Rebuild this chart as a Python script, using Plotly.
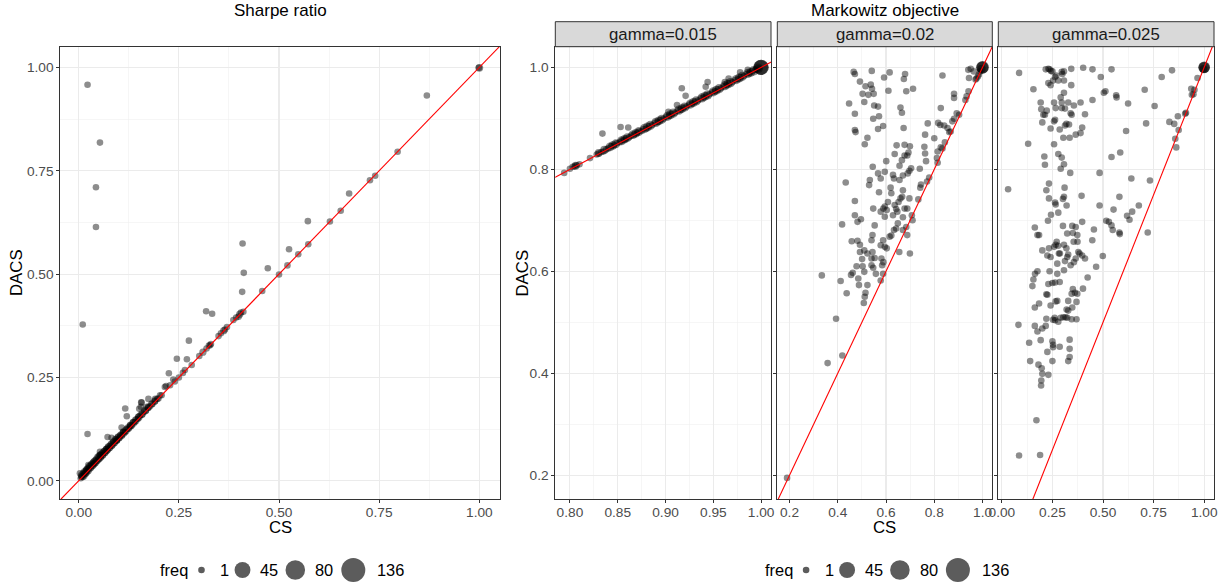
import plotly.graph_objects as go

W, H = 1226, 584
FONT = "Liberation Sans, Arial, Helvetica, sans-serif"

# ---------------- data (CS, DACS) ----------------
# Sharpe ratio panel
sharpe_points = [
    (0.022, 0.958), (0.053, 0.818), (0.043, 0.710), (0.043, 0.614), (0.869, 0.932),
    (0.675, 0.695), (0.572, 0.628), (0.525, 0.560), (0.472, 0.514), (0.409, 0.574),
    (0.412, 0.503), (0.408, 0.457), (0.318, 0.410), (0.333, 0.404), (0.010, 0.378),
    (0.275, 0.339), (0.245, 0.295), (0.270, 0.294), (0.225, 0.260), (0.022, 0.113),
    (0.116, 0.175), (0.120, 0.156), (0.107, 0.129), (0.156, 0.190), (0.151, 0.174),
    (0.174, 0.198), (0.072, 0.106), (0.082, 0.104), (0.053, 0.070), (0.024, 0.038),
    (0.003, 0.018), (0.157, 0.189), (0.155, 0.179),
    (0.796, 0.796), (0.740, 0.738), (0.727, 0.727), (0.654, 0.653), (0.627, 0.627),
    (0.573, 0.572), (0.548, 0.548), (0.521, 0.521), (0.500, 0.499), (0.458, 0.459),
    (0.411, 0.409), (0.405, 0.407), (0.399, 0.397), (0.393, 0.395), (0.386, 0.389),
    (0.370, 0.372), (0.365, 0.366), (0.355, 0.357), (0.349, 0.350), (0.330, 0.331),
    (0.328, 0.328), (0.325, 0.327), (0.319, 0.320), (0.301, 0.302), (0.282, 0.280),
    (0.265, 0.268), (0.260, 0.261), (0.250, 0.250), (0.240, 0.240), (0.236, 0.245),
    (0.228, 0.231), (0.218, 0.229), (0.215, 0.227), (0.207, 0.207), (0.203, 0.207),
    (0.199, 0.199), (0.191, 0.198), (0.170, 0.179), (0.149, 0.155), (0.128, 0.131),
    (0.111, 0.119), (0.095, 0.098), (0.070, 0.078), (0.053, 0.062), (0.037, 0.042),
    (0.020, 0.026), (0.007, 0.010),
    (0.005, 0.006), (0.008, 0.012), (0.010, 0.010), (0.012, 0.018), (0.014, 0.015),
    (0.016, 0.022), (0.018, 0.019), (0.020, 0.028), (0.022, 0.024), (0.025, 0.030),
    (0.027, 0.035), (0.030, 0.032), (0.032, 0.040), (0.035, 0.037), (0.037, 0.046),
    (0.040, 0.042), (0.042, 0.050), (0.045, 0.047), (0.047, 0.058), (0.050, 0.052),
    (0.052, 0.062), (0.055, 0.057), (0.058, 0.066), (0.060, 0.062), (0.063, 0.072),
    (0.066, 0.068), (0.068, 0.076), (0.071, 0.073), (0.074, 0.083), (0.077, 0.079),
    (0.080, 0.088), (0.083, 0.085), (0.086, 0.095), (0.089, 0.091), (0.092, 0.101),
    (0.095, 0.097), (0.098, 0.106), (0.101, 0.103), (0.104, 0.110), (0.108, 0.110),
    (0.112, 0.118), (0.116, 0.118), (0.120, 0.126), (0.124, 0.126), (0.128, 0.134),
    (0.132, 0.134), (0.136, 0.142), (0.140, 0.142), (0.144, 0.149), (0.148, 0.150),
    (0.153, 0.158), (0.158, 0.160), (0.163, 0.167), (0.168, 0.170), (0.173, 0.176),
    (0.178, 0.180), (0.184, 0.186), (0.190, 0.192), (0.196, 0.198),
    (0.999, 0.999),
]
# (CS, DACS, freq) for repeated portfolios
sharpe_multi = [
    (1.0, 0.999, 3), (0.010, 0.013, 9), (0.016, 0.020, 8), (0.022, 0.026, 8),
    (0.028, 0.033, 7), (0.034, 0.039, 7), (0.040, 0.045, 7), (0.046, 0.051, 6),
    (0.052, 0.057, 6), (0.058, 0.063, 6), (0.064, 0.069, 5), (0.070, 0.075, 5),
    (0.076, 0.081, 5), (0.082, 0.087, 5), (0.088, 0.093, 4), (0.094, 0.099, 4),
    (0.100, 0.105, 4), (0.106, 0.110, 4), (0.112, 0.116, 4), (0.118, 0.122, 3),
    (0.124, 0.128, 3), (0.130, 0.134, 3), (0.136, 0.140, 3), (0.142, 0.146, 3),
    (0.150, 0.154, 3), (0.158, 0.162, 3), (0.166, 0.170, 3), (0.174, 0.178, 2),
    (0.182, 0.186, 2), (0.190, 0.193, 2), (0.310, 0.311, 2), (0.362, 0.363, 2),
    (0.402, 0.403, 2),
]

# Markowitz objective, gamma = 0.015
g015_points = [
    (0.794, 0.793), (0.834, 0.870), (0.853, 0.883), (0.861, 0.882), (0.903, 0.913),
    (0.912, 0.926), (0.917, 0.959), (0.921, 0.944), (0.942, 0.962), (0.944, 0.971),
    (0.962, 0.971), (0.966, 0.978), (0.978, 0.990), (0.986, 0.995),
    (0.800, 0.801), (0.803, 0.805), (0.805, 0.806), (0.807, 0.808), (0.810, 0.810),
    (0.821, 0.822), (0.828, 0.829), (0.830, 0.831), (0.833, 0.834), (0.835, 0.835),
    (0.838, 0.839), (0.840, 0.841), (0.843, 0.845), (0.846, 0.847), (0.849, 0.851),
    (0.852, 0.853), (0.854, 0.856), (0.857, 0.858), (0.859, 0.861), (0.862, 0.863),
    (0.864, 0.866), (0.867, 0.868), (0.870, 0.871), (0.872, 0.874), (0.875, 0.875),
    (0.877, 0.879), (0.880, 0.880), (0.883, 0.885), (0.886, 0.887), (0.889, 0.891),
    (0.892, 0.893), (0.895, 0.897), (0.898, 0.899), (0.901, 0.903), (0.904, 0.905),
    (0.907, 0.909), (0.910, 0.911), (0.913, 0.915), (0.916, 0.917), (0.919, 0.921),
    (0.922, 0.923), (0.925, 0.927), (0.928, 0.929), (0.931, 0.933), (0.934, 0.935),
    (0.937, 0.939), (0.940, 0.941), (0.943, 0.945), (0.946, 0.947), (0.949, 0.951),
    (0.952, 0.953), (0.955, 0.957), (0.958, 0.959), (0.961, 0.963), (0.964, 0.965),
    (0.967, 0.969), (0.970, 0.971), (0.973, 0.975), (0.976, 0.977), (0.979, 0.981),
    (0.982, 0.983), (0.985, 0.987), (0.988, 0.989), (0.991, 0.993), (0.994, 0.995),
    (0.997, 0.998),
]
g015_multi = [
    (1.0, 1.0, 40), (1.0, 1.0, 38), (0.9995, 0.9995, 36), (0.997, 0.998, 8),
    (0.806, 0.807, 3), (0.830, 0.832, 3), (0.836, 0.838, 4),
    (0.842, 0.844, 6), (0.848, 0.850, 6), (0.854, 0.856, 6), (0.860, 0.862, 6),
    (0.866, 0.868, 6), (0.872, 0.874, 6), (0.878, 0.880, 7), (0.884, 0.886, 7),
    (0.890, 0.892, 7), (0.896, 0.898, 7), (0.902, 0.904, 7), (0.908, 0.910, 7),
    (0.914, 0.916, 7), (0.920, 0.922, 7), (0.926, 0.928, 7), (0.932, 0.934, 7),
    (0.938, 0.940, 7), (0.944, 0.946, 7), (0.950, 0.952, 7), (0.956, 0.958, 7),
    (0.962, 0.964, 7), (0.968, 0.970, 7), (0.974, 0.976, 7), (0.980, 0.982, 7),
    (0.986, 0.988, 7), (0.992, 0.993, 8),
    (0.845, 0.847, 5), (0.857, 0.859, 5), (0.869, 0.871, 5), (0.881, 0.883, 6),
    (0.893, 0.895, 6), (0.905, 0.907, 6), (0.917, 0.919, 6), (0.929, 0.931, 6),
    (0.941, 0.943, 6), (0.953, 0.955, 6), (0.965, 0.967, 6), (0.977, 0.979, 6),
    (0.989, 0.990, 6),
]

# Markowitz objective, gamma = 0.02
g020_points = [
    (0.466, 0.991), (0.471, 0.987), (0.541, 0.993), (0.615, 0.990), (0.592, 0.980),
    (0.679, 0.987), (0.674, 0.977), (0.834, 0.984), (0.492, 0.972), (0.515, 0.963),
    (0.537, 0.966), (0.542, 0.958), (0.527, 0.946), (0.503, 0.948), (0.549, 0.948),
    (0.610, 0.954), (0.684, 0.953), (0.712, 0.958), (0.882, 0.948), (0.882, 0.940),
    (0.942, 0.953), (0.934, 0.943), (0.929, 0.936), (0.447, 0.929), (0.510, 0.932),
    (0.551, 0.925), (0.567, 0.923), (0.660, 0.921), (0.666, 0.911), (0.827, 0.920),
    (0.471, 0.909), (0.571, 0.904), (0.547, 0.899), (0.893, 0.910), (0.903, 0.907),
    (0.882, 0.899), (0.875, 0.894), (0.588, 0.885), (0.567, 0.879), (0.673, 0.881),
    (0.773, 0.890), (0.816, 0.891), (0.825, 0.887), (0.841, 0.886), (0.855, 0.881),
    (0.868, 0.874), (0.862, 0.873), (0.471, 0.877), (0.474, 0.873), (0.523, 0.862),
    (0.512, 0.849), (0.762, 0.868), (0.800, 0.861), (0.844, 0.853), (0.834, 0.841),
    (0.827, 0.843), (0.814, 0.835), (0.811, 0.822), (0.814, 0.813), (0.644, 0.847),
    (0.677, 0.848), (0.699, 0.845), (0.693, 0.833), (0.688, 0.827), (0.677, 0.827),
    (0.666, 0.818), (0.656, 0.807), (0.759, 0.844), (0.762, 0.831), (0.766, 0.816),
    (0.636, 0.830), (0.601, 0.816), (0.545, 0.805), (0.567, 0.792), (0.578, 0.782),
    (0.533, 0.779), (0.530, 0.769), (0.595, 0.795), (0.629, 0.789), (0.633, 0.782),
    (0.656, 0.779), (0.670, 0.788), (0.690, 0.792), (0.697, 0.797), (0.704, 0.802),
    (0.740, 0.801), (0.779, 0.784), (0.770, 0.776), (0.745, 0.770), (0.742, 0.764),
    (0.433, 0.774), (0.571, 0.755), (0.619, 0.764), (0.622, 0.753), (0.670, 0.759),
    (0.667, 0.746), (0.660, 0.743), (0.652, 0.736), (0.697, 0.743), (0.734, 0.741),
    (0.471, 0.738), (0.608, 0.736), (0.595, 0.727), (0.589, 0.723), (0.603, 0.720),
    (0.578, 0.717), (0.547, 0.723), (0.636, 0.730), (0.642, 0.722), (0.647, 0.717),
    (0.677, 0.723), (0.688, 0.723), (0.629, 0.710), (0.595, 0.707), (0.670, 0.706),
    (0.707, 0.710), (0.710, 0.700), (0.471, 0.710), (0.496, 0.702), (0.482, 0.697),
    (0.418, 0.692), (0.553, 0.690), (0.649, 0.694), (0.642, 0.684), (0.633, 0.681),
    (0.622, 0.670), (0.615, 0.668), (0.684, 0.687), (0.670, 0.681), (0.688, 0.671),
    (0.544, 0.671), (0.540, 0.661), (0.458, 0.659), (0.482, 0.660), (0.492, 0.652),
    (0.588, 0.661), (0.578, 0.651), (0.595, 0.648), (0.603, 0.645), (0.510, 0.641),
    (0.523, 0.635), (0.544, 0.638), (0.492, 0.638), (0.655, 0.638), (0.699, 0.635),
    (0.540, 0.625), (0.553, 0.626), (0.581, 0.625), (0.589, 0.618), (0.584, 0.612),
    (0.501, 0.624), (0.478, 0.610), (0.503, 0.610), (0.540, 0.612), (0.547, 0.607),
    (0.462, 0.597), (0.510, 0.599), (0.334, 0.592), (0.455, 0.593), (0.558, 0.595),
    (0.588, 0.595), (0.578, 0.582), (0.485, 0.586), (0.488, 0.573), (0.523, 0.573),
    (0.412, 0.581), (0.437, 0.557), (0.515, 0.558), (0.512, 0.550), (0.508, 0.538),
    (0.393, 0.507), (0.419, 0.435), (0.358, 0.420), (0.190, 0.195),
    (0.951, 0.997), (0.941, 0.995), (0.964, 0.992), (0.944, 0.979), (0.971, 0.976),
    (0.981, 0.982), (0.985, 0.986), (0.990, 0.992), (0.975, 0.978),
]
g020_multi = [(1.0, 1.0, 22), (1.0, 1.0, 20), (0.999, 0.999, 18), (0.996, 0.997, 4)]

# Markowitz objective, gamma = 0.025
g025_points = [
    (0.085, 0.989), (0.217, 0.996), (0.230, 0.997), (0.243, 0.993), (0.236, 0.996),
    (0.250, 0.992), (0.263, 0.981), (0.269, 0.984), (0.296, 0.991), (0.307, 0.992),
    (0.299, 0.987), (0.343, 0.997), (0.402, 0.999), (0.448, 0.996), (0.542, 0.996),
    (0.489, 0.981), (0.230, 0.969), (0.241, 0.965), (0.253, 0.974), (0.279, 0.974),
    (0.307, 0.974), (0.156, 0.957), (0.343, 0.965), (0.307, 0.950), (0.291, 0.941),
    (0.512, 0.953), (0.504, 0.950), (0.565, 0.945), (0.567, 0.941), (0.706, 0.956),
    (0.841, 0.994), (0.790, 0.981), (0.967, 0.979), (0.936, 0.958), (0.952, 0.956),
    (0.939, 0.946), (0.947, 0.947), (0.192, 0.931), (0.258, 0.931), (0.296, 0.931),
    (0.328, 0.931), (0.356, 0.925), (0.389, 0.931), (0.448, 0.936), (0.624, 0.929),
    (0.755, 0.924), (0.195, 0.918), (0.222, 0.915), (0.205, 0.907), (0.213, 0.907),
    (0.266, 0.920), (0.296, 0.920), (0.312, 0.919), (0.340, 0.910), (0.345, 0.907),
    (0.411, 0.908), (0.200, 0.892), (0.258, 0.894), (0.263, 0.897), (0.312, 0.886),
    (0.319, 0.889), (0.332, 0.888), (0.241, 0.880), (0.286, 0.878), (0.397, 0.882),
    (0.389, 0.871), (0.365, 0.868), (0.335, 0.862), (0.304, 0.862), (0.713, 0.890),
    (0.614, 0.875), (0.870, 0.904), (0.906, 0.909), (0.910, 0.911), (0.828, 0.893),
    (0.852, 0.889), (0.874, 0.877), (0.857, 0.860), (0.862, 0.843), (0.130, 0.850),
    (0.258, 0.849), (0.542, 0.824), (0.585, 0.833), (0.210, 0.825), (0.213, 0.809),
    (0.279, 0.830), (0.296, 0.823), (0.307, 0.810), (0.291, 0.801), (0.338, 0.793),
    (0.483, 0.793), (0.640, 0.782), (0.732, 0.778), (0.031, 0.761), (0.233, 0.772),
    (0.220, 0.759), (0.310, 0.764), (0.233, 0.743), (0.263, 0.735), (0.266, 0.731),
    (0.302, 0.742), (0.307, 0.746), (0.320, 0.729), (0.279, 0.715), (0.394, 0.748),
    (0.581, 0.746), (0.483, 0.729), (0.552, 0.721), (0.677, 0.729), (0.644, 0.717),
    (0.619, 0.709), (0.631, 0.701), (0.243, 0.711), (0.228, 0.699), (0.516, 0.699),
    (0.529, 0.697), (0.542, 0.690), (0.548, 0.681), (0.581, 0.676), (0.583, 0.673),
    (0.397, 0.697), (0.365, 0.687), (0.348, 0.689), (0.163, 0.686), (0.176, 0.671),
    (0.184, 0.671), (0.302, 0.689), (0.323, 0.674), (0.351, 0.675), (0.373, 0.671),
    (0.374, 0.658), (0.355, 0.658), (0.447, 0.661), (0.455, 0.682), (0.271, 0.658),
    (0.266, 0.652), (0.258, 0.648), (0.233, 0.645), (0.200, 0.641), (0.225, 0.631),
    (0.241, 0.628), (0.278, 0.650), (0.282, 0.635), (0.307, 0.652), (0.319, 0.645),
    (0.328, 0.633), (0.323, 0.628), (0.287, 0.635), (0.378, 0.638), (0.384, 0.635),
    (0.397, 0.631), (0.365, 0.625), (0.411, 0.625), (0.356, 0.618), (0.340, 0.612),
    (0.312, 0.620), (0.274, 0.615), (0.499, 0.630), (0.466, 0.609), (0.721, 0.676),
    (0.176, 0.600), (0.164, 0.595), (0.236, 0.600), (0.274, 0.595), (0.307, 0.602),
    (0.156, 0.584), (0.151, 0.571), (0.230, 0.575), (0.250, 0.577), (0.263, 0.578),
    (0.286, 0.579), (0.424, 0.588), (0.351, 0.565), (0.361, 0.558), (0.345, 0.556),
    (0.373, 0.556), (0.401, 0.566), (0.220, 0.555), (0.225, 0.554), (0.328, 0.542),
    (0.369, 0.540), (0.241, 0.533), (0.274, 0.542), (0.266, 0.541), (0.184, 0.537),
    (0.163, 0.529), (0.320, 0.525), (0.328, 0.523), (0.348, 0.529), (0.315, 0.510),
    (0.220, 0.507), (0.261, 0.509), (0.253, 0.505), (0.263, 0.504), (0.279, 0.501),
    (0.291, 0.509), (0.304, 0.510), (0.323, 0.509), (0.345, 0.506), (0.369, 0.506),
    (0.082, 0.495), (0.163, 0.493), (0.176, 0.482), (0.200, 0.488), (0.217, 0.493),
    (0.192, 0.465), (0.135, 0.460), (0.250, 0.463), (0.253, 0.456), (0.253, 0.451),
    (0.286, 0.452), (0.335, 0.466), (0.335, 0.448), (0.225, 0.442), (0.140, 0.424),
    (0.250, 0.424), (0.328, 0.424), (0.335, 0.432), (0.181, 0.417), (0.197, 0.410),
    (0.200, 0.399), (0.230, 0.397), (0.195, 0.386), (0.194, 0.376), (0.171, 0.308),
    (0.085, 0.239), (0.189, 0.240),
]
g025_multi = [(1.0, 1.0, 16), (1.0, 1.0, 15), (0.999, 0.999, 14), (0.997, 0.997, 3)]

facet_labels = ["gamma=0.015", "gamma=0.02", "gamma=0.025"]
legend_breaks = [1, 45, 80, 136]

sharpe_ticks = [0.0, 0.25, 0.5, 0.75, 1.0]
markowitz_y_ticks = [0.2, 0.4, 0.6, 0.8, 1.0]
g015_x_ticks = [0.80, 0.85, 0.90, 0.95, 1.00]
g020_x_ticks = [0.2, 0.4, 0.6, 0.8, 1.0]
g025_x_ticks = [0.0, 0.25, 0.5, 0.75, 1.0]

# ---------------- helpers ----------------
def px_x(p):
    return p / W

def px_y(p):
    return 1 - p / H

def msize(f):
    return 6.6 + 17.4 * (f ** 0.5 - 1) / (136 ** 0.5 - 1)

MARK = "rgba(0,0,0,0.64)"

fig = go.Figure()
panels = [
    ("x", "y", sharpe_points, sharpe_multi),
    ("x2", "y2", g015_points, g015_multi),
    ("x3", "y3", g020_points, g020_multi),
    ("x4", "y4", g025_points, g025_multi),
]
for xa, ya, pts, multi in panels:
    allp = [(c, d, 1) for c, d in pts] + list(multi)
    fig.add_trace(go.Scatter(
        x=[p[0] for p in allp], y=[p[1] for p in allp], mode="markers",
        xaxis=xa, yaxis=ya, showlegend=False, hoverinfo="skip",
        marker=dict(size=[msize(p[2]) for p in allp], color=MARK, line=dict(width=0)),
    ))
    fig.add_trace(go.Scatter(
        x=[-1, 2], y=[-1, 2], mode="lines", xaxis=xa, yaxis=ya,
        line=dict(color="#ff0000", width=1.1), showlegend=False, hoverinfo="skip",
    ))

# domains (pixels -> paper)
ytop, ybot = 46.7, 499.3
ydom = [px_y(ybot), px_y(ytop)]
xdoms = [(60.3, 500.0), (555.3, 771.0), (777.3, 992.3), (998.3, 1214.0)]

def axis(dom, rng, ticks, fmt, minor_vals, showlabels=True, anchor=None):
    d = dict(
        domain=list(dom), range=rng, tickmode="array", tickvals=ticks, tickformat=fmt,
        showline=True, mirror=True, linecolor="#333333", linewidth=1,
        showgrid=True, gridcolor="#ebebeb", gridwidth=1.1, zeroline=False,
        ticks="outside", ticklen=3, tickcolor="#333333", tickwidth=1,
        tickfont=dict(size=13.7, color="#4d4d4d", family=FONT),
        showticklabels=showlabels, automargin=False,
        minor=dict(tickmode="array", tickvals=minor_vals, showgrid=True,
                   gridcolor="#f0f0f0", gridwidth=0.6, ticks=""),
    )
    if anchor:
        d["anchor"] = anchor
    return d

q = [0.125, 0.375, 0.625, 0.875]
odd = [0.3, 0.5, 0.7, 0.9]
layout = dict(
    width=W, height=H, margin=dict(l=0, r=0, t=0, b=0, pad=0, autoexpand=False),
    paper_bgcolor="white", plot_bgcolor="white", showlegend=False,
    font=dict(family=FONT, color="black"),
    xaxis=axis([px_x(xdoms[0][0]), px_x(xdoms[0][1])], [-0.046, 1.0516], sharpe_ticks, ".2f", q, anchor="y"),
    yaxis=axis(ydom, [-0.0448, 1.05], sharpe_ticks, ".2f", q, anchor="x"),
    xaxis2=axis([px_x(xdoms[1][0]), px_x(xdoms[1][1])], [0.7847, 1.0103], g015_x_ticks, ".2f",
                [0.825, 0.875, 0.925, 0.975], anchor="y2"),
    yaxis2=axis(ydom, [0.153, 1.0404], markowitz_y_ticks, ".1f", odd, anchor="x2"),
    xaxis3=axis([px_x(xdoms[2][0]), px_x(xdoms[2][1])], [0.1495, 1.0405], g020_x_ticks, ".1f", odd, anchor="y3"),
    yaxis3=axis(ydom, [0.153, 1.0404], markowitz_y_ticks, ".1f", odd, showlabels=False, anchor="x3"),
    xaxis4=axis([px_x(xdoms[3][0]), px_x(xdoms[3][1])], [-0.0175, 1.0485], g025_x_ticks, ".2f", q, anchor="y4"),
    yaxis4=axis(ydom, [0.153, 1.0404], markowitz_y_ticks, ".1f", odd, showlabels=False, anchor="x4"),
)
fig.update_layout(**layout)
try:
    fig.update_xaxes(ticklabelstandoff=-3)
except Exception:
    pass

shapes = []
annotations = []

# facet strips
for (x0, x1), lab in zip(xdoms[1:], facet_labels):
    shapes.append(dict(type="rect", xref="paper", yref="paper",
                       x0=px_x(x0), x1=px_x(x1), y0=px_y(46.7), y1=px_y(21.7),
                       fillcolor="#d9d9d9", line=dict(color="#333333", width=1), layer="above"))
    annotations.append(dict(text=lab, xref="paper", yref="paper", x=px_x((x0 + x1) / 2), y=px_y(34.2),
                            xanchor="center", yanchor="middle", showarrow=False,
                            font=dict(size=16.8, color="#1a1a1a", family=FONT)))

def txt(s, x, y, size=16.8, angle=0, xanchor="center", color="black"):
    annotations.append(dict(text=s, xref="paper", yref="paper", x=px_x(x), y=px_y(y),
                            xanchor=xanchor, yanchor="middle", showarrow=False, textangle=angle,
                            font=dict(size=size, color=color, family=FONT)))

# titles
txt("Sharpe ratio", 280.0, 10.5, size=17)
txt("Markowitz objective", 884.6, 10.5, size=17)
# axis titles
txt("CS", 280.0, 527.0)
txt("CS", 884.6, 527.0)
txt("DACS", 16.0, 273.0, angle=-90)
txt("DACS", 521.5, 273.0, angle=-90)

# size legends
legend_offsets = [0.0, 604.6]
circle_x = [201.5, 242.5, 295.3, 353.3]
label_x = [218.0, 258.0, 313.0, 375.0]
for off in legend_offsets:
    txt("freq", 158.0 + off, 570.0, size=16.4, xanchor="left")
    for f, cx, lx in zip(legend_breaks, circle_x, label_x):
        r = msize(f) / 2
        shapes.append(dict(type="circle", xref="paper", yref="paper",
                           xsizemode="pixel", ysizemode="pixel",
                           xanchor=px_x(cx + off), yanchor=px_y(570.0),
                           x0=-r, x1=r, y0=-r, y1=r,
                           fillcolor=MARK, line=dict(width=0)))
        txt(str(f), lx + off, 570.0, size=16.4, xanchor="left")

fig.update_layout(shapes=shapes, annotations=annotations)
fig.write_html(
    "out.html",
    config={"displayModeBar": False, "staticPlot": True},
    post_script="document.body.style.margin='0';document.body.style.padding='0';"
                "document.documentElement.style.overflow='hidden';",
)
